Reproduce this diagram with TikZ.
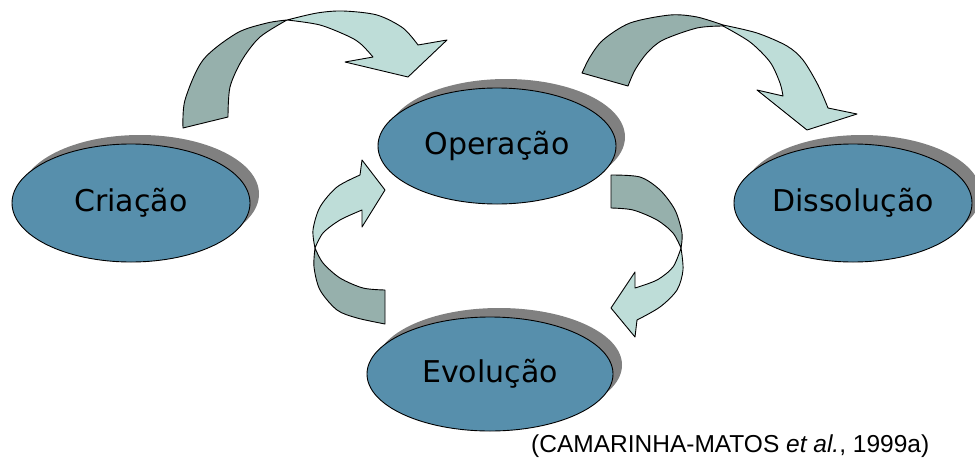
\documentclass[tikz,border=0pt]{standalone}
\usepackage{fontspec}
\setmainfont{DejaVu Sans}
\newfontfamily\fontecit{Liberation Sans}
\usepackage{xcolor}
\usepackage{tikz}
\usetikzlibrary{shapes.geometric, shadows, positioning}

\definecolor{azulestado}{RGB}{87,143,172}
\definecolor{sombra}{RGB}{128,128,128}
\definecolor{fitaescura}{RGB}{150,176,172}
\definecolor{fitaclara}{RGB}{190,221,216}

\begin{document}
\begin{tikzpicture}[
    x=1pt, y=-1pt,
    estado/.style={ellipse, draw, line width=0.9pt, fill=azulestado, inner sep=0pt,
        minimum width=238pt, minimum height=118pt,
        font=\fontsize{30}{36}\selectfont,
        drop shadow={shadow xshift=9pt, shadow yshift=9pt, fill=sombra, opacity=1}},
    parteescura/.style={draw, line width=0.9pt, line join=round, fill=fitaescura},
    parteclara/.style={draw, line width=0.9pt, line join=round, fill=fitaclara}
]
\useasboundingbox (0,0) rectangle (975,458);

\node[estado] (criacao) at (131,203) {Criação};
\node[estado, minimum height=116pt] (operacao) at (497,146) {Operação};
\node[estado] (dissolucao) at (853,203) {Dissolução};
\node[estado, minimum width=246pt, minimum height=114pt] (evolucao) at (490,374) {Evolução};

% Criacao -> Operacao
\path[parteescura] plot[smooth] coordinates {(183,128) (185,100) (203,60) (237,33) (267,23) (287,20)}
    -- plot[smooth] coordinates {(287,20) (260,37) (242,60) (230,87) (228,117)} -- cycle;
\path[parteclara] plot[smooth] coordinates {(287,20) (317,13) (343,11) (377,15) (403,28) (418,45)}
    -- (447,40) -- (408,77) -- (345,62)
    -- plot[smooth] coordinates {(373,57) (362,45) (350,37) (320,25) (287,20)} -- cycle;

% Operacao -> Dissolucao
\path[parteescura] plot[smooth] coordinates {(582,73) (590,57) (603,40) (630,23) (670,15) (697,17) (723,25)}
    -- plot[smooth] coordinates {(723,26) (697,28) (663,40) (647,53) (635,70) (628,86)} -- cycle;
\path[parteclara] plot[smooth] coordinates {(723,25) (757,33) (787,46) (803,60) (818,85) (828,108)}
    -- (857,114) -- (807,130) -- (757,90)
    -- plot[smooth] coordinates {(783,96) (780,83) (770,62) (750,42) (723,26)} -- cycle;

% Evolucao -> Operacao
\path[parteescura] plot[smooth] coordinates {(385,324) (357,318) (337,310) (320,290) (314,267) (315,248)}
    -- plot[smooth] coordinates {(315,248) (323,263) (340,278) (363,288) (385,290)} -- cycle;
\path[parteclara] plot[smooth] coordinates {(315,248) (313,230) (320,207) (337,187) (360,175)}
    -- (362,160) -- (385,190) -- (362,227)
    -- plot[smooth] coordinates {(362,210) (340,220) (323,233) (315,248)} -- cycle;

% Operacao -> Evolucao
\path[parteescura] plot[smooth] coordinates {(611,175) (640,177) (660,190) (675,210) (682,233) (681,248)}
    -- plot[smooth] coordinates {(681,248) (673,233) (657,220) (633,210) (611,208)} -- cycle;
\path[parteclara] plot[smooth] coordinates {(681,248) (683,270) (677,290) (660,307) (637,320)}
    -- (635,337) -- (611,308) -- (635,272)
    -- plot[smooth] coordinates {(635,288) (657,280) (673,267) (681,248)} -- cycle;

\node[anchor=base west, inner sep=0pt, font=\fontecit\fontsize{24.5}{28}\selectfont] (fonte) at (531,452)
    {(CAMARINHA-MATOS \textit{et al.}, 1999a)};
\end{tikzpicture}
\end{document}
